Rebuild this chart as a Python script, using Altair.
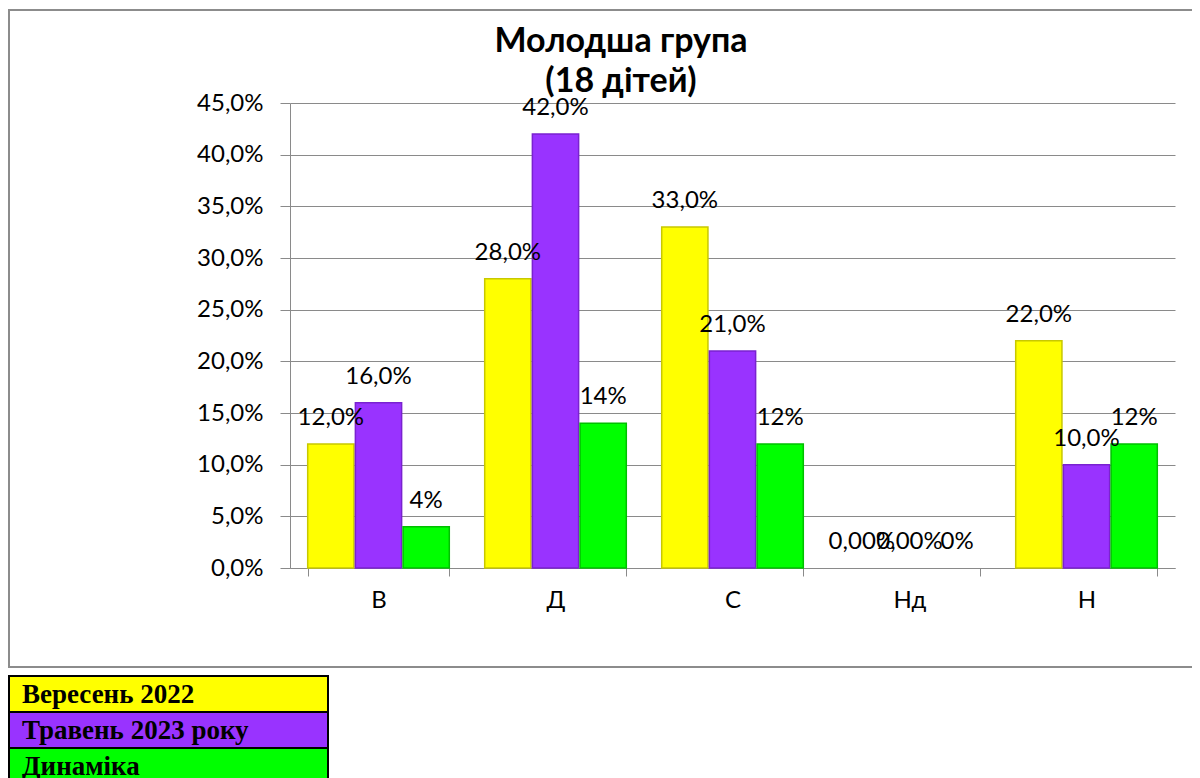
import altair as alt
import pandas as pd

categories = ["В", "Д", "С", "Нд", "Н"]
series = ["Вересень 2022", "Травень 2023 року", "Динаміка"]
sept_2022 = [12.0, 28.0, 33.0, 0.0, 22.0]
may_2023 = [16.0, 42.0, 21.0, 0.0, 10.0]
dynamics = [4.0, 14.0, 12.0, 0.0, 12.0]
sept_labels = ["12,0%", "28,0%", "33,0%", "0,00%", "22,0%"]
may_labels = ["16,0%", "42,0%", "21,0%", "0,00%", "10,0%"]
dyn_labels = ["4%", "14%", "12%", "0%", "12%"]
title_lines = ["Молодша група", "(18 дітей)"]
colors = ["#FFFF00", "#9933FF", "#00FF00"]
edge_colors = ["#C8C800", "#7A22D0", "#00C000"]
y_ticks = [0, 5, 10, 15, 20, 25, 30, 35, 40, 45]

rows = []
for s, vals, labs in zip(series, [sept_2022, may_2023, dynamics], [sept_labels, may_labels, dyn_labels]):
    for c, v, l in zip(categories, vals, labs):
        rows.append({"cat": c, "series": s, "value": v, "label": l})
df = pd.DataFrame(rows)
legend_df = pd.DataFrame({"series": series})

W, H = 885, 465
PAD_R = 17
GRID = "#8a8a8a"
FONT = "Lato"

color_scale = alt.Scale(domain=series, range=colors)

x_enc = alt.X(
    "cat:N", sort=categories,
    scale=alt.Scale(paddingInner=0.2, paddingOuter=0.1),
    axis=alt.Axis(title=None, labelAngle=0, tickBand="extent", tickSize=8,
                  labelPadding=12, domainColor=GRID, tickColor=GRID,
                  labelFont=FONT, labelFontSize=24, labelColor="black", grid=False),
)
xo_enc = alt.XOffset("series:N", sort=series, scale=alt.Scale(domain=series, paddingInner=0.03))
y_enc = alt.Y(
    "value:Q", scale=alt.Scale(domain=[0, 45], nice=False),
    axis=alt.Axis(title=None, values=y_ticks,
                  labelExpr="replace(format(datum.value, '.1f'), '.', ',') + '%'",
                  grid=True, gridColor=GRID, gridWidth=1, tickSize=10, labelPadding=17,
                  domainColor=GRID, tickColor=GRID, labelFont=FONT, labelFontSize=24,
                  labelColor="black"),
)

bars = alt.Chart(df).mark_bar(strokeWidth=1.5).encode(
    x=x_enc, xOffset=xo_enc, y=y_enc,
    color=alt.Color("series:N", scale=color_scale, legend=None),
    stroke=alt.Stroke("series:N", scale=alt.Scale(domain=series, range=edge_colors), legend=None),
    strokeOpacity=alt.condition("datum.value > 0", alt.value(1), alt.value(0)),
)
labels = alt.Chart(df).mark_text(
    baseline="middle", align="center", dy=-26, font=FONT, fontSize=24, color="black"
).encode(x=x_enc, xOffset=xo_enc, y=y_enc, text="label:N")

main = alt.layer(bars, labels)

one = alt.Data(values=[{}])
BORDER = dict(color="#8c8c8c", strokeWidth=2)
border_top = alt.Chart(one).mark_rule(**BORDER).encode(
    x=alt.value(-281), x2=alt.value(W + PAD_R), y=alt.value(-93))
border_bottom = alt.Chart(one).mark_rule(**BORDER).encode(
    x=alt.value(-281), x2=alt.value(W + PAD_R), y=alt.value(564))
border_left = alt.Chart(one).mark_rule(**BORDER).encode(
    x=alt.value(-281), y=alt.value(-94), y2=alt.value(565))

title = alt.Chart(one).mark_text(
    align="center", baseline="alphabetic", lineHeight=40, font=FONT,
    fontWeight="bold", fontSize=34, color="black"
).encode(x=alt.value(331), y=alt.value(-51), text=alt.value(title_lines))

leg_y = alt.Y("series:N", scale=alt.Scale(domain=series, range=[573, 681], paddingInner=0, paddingOuter=0), axis=None)
leg_rect = alt.Chart(legend_df).mark_rect(stroke="black", strokeWidth=2).encode(
    x=alt.value(-281), x2=alt.value(38), y=leg_y,
    color=alt.Color("series:N", scale=color_scale, legend=None),
)
leg_text = alt.Chart(legend_df).mark_text(
    align="left", baseline="middle", font="Liberation Serif", fontWeight="bold",
    fontSize=27, color="black", dy=1
).encode(x=alt.value(-268), y=leg_y, text="series:N")
legend = alt.layer(leg_rect, leg_text)

chart = alt.layer(border_top, border_bottom, border_left, main, title, legend).resolve_scale(
    y="independent"
).properties(
    width=W, height=H,
    padding={"left": 282, "top": 95, "right": PAD_R, "bottom": 210},
    autosize=alt.AutoSizeParams(type="none"),
    background="white",
).configure_view(stroke=None)

chart.save("out.html", embed_options={"renderer": "svg", "actions": False})
